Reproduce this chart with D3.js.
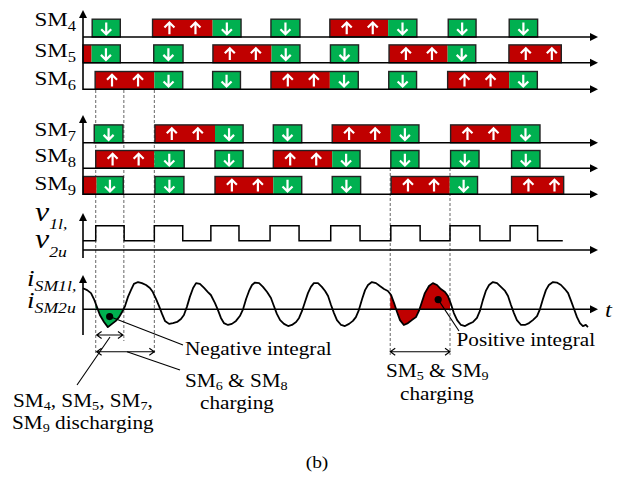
<!DOCTYPE html>
<html><head><meta charset="utf-8">
<script src="https://cdn.jsdelivr.net/npm/d3@7"></script>
<style>body{margin:0;background:#fff;} svg{display:block;}</style>
</head><body>
<svg id="c" width="634" height="481"></svg>
<script>
// ---------- data (time in half-period units) ----------
const rowNames = ["4","5","6","7","8","9"];
// [start, end, type]  c = charging (red, up), d = discharging (green, down)
const sm4 = [[0.31,1.26,"d"],[2.35,4.38,"c"],[4.38,5.34,"d"],[6.35,7.33,"d"],[8.34,10.31,"c"],[10.31,11.28,"d"],[12.34,13.28,"d"],[14.40,15.36,"d"]];
const sm5 = [[0.0,0.29,"c"],[0.29,1.26,"d"],[2.39,3.38,"d"],[4.39,6.37,"c"],[6.37,7.33,"d"],[8.36,9.31,"d"],[10.34,12.32,"c"],[12.32,13.27,"d"],[14.39,16.16,"c"]];
const sm6 = [[0.41,2.41,"c"],[2.41,3.37,"d"],[4.38,5.32,"d"],[6.35,8.34,"c"],[8.34,9.30,"d"],[10.33,11.27,"d"],[12.32,14.40,"c"],[14.40,15.35,"d"]];
const sm7 = [[0.38,1.35,"d"],[2.43,4.46,"c"],[4.46,5.41,"d"],[6.43,7.39,"d"],[8.42,10.40,"c"],[10.40,11.35,"d"],[12.42,14.46,"c"],[14.46,15.44,"d"]];
const sm8 = [[0.43,2.41,"c"],[2.41,3.42,"d"],[4.46,5.41,"d"],[6.43,8.42,"c"],[8.42,9.36,"d"],[10.40,11.35,"d"],[12.42,13.38,"d"],[14.48,15.44,"d"]];
const sm9 = [[0.01,0.46,"c"],[0.46,1.36,"d"],[2.43,3.41,"d"],[4.46,6.43,"c"],[6.43,7.39,"d"],[8.42,9.38,"d"],[10.41,12.39,"c"],[12.39,13.33,"d"],[14.48,16.24,"c"]];
// arm voltage square wave: edge times, levels
const vEdges = [0.43,1.39,2.41,3.37,4.32,5.27,6.32,7.30,8.37,9.36,10.40,11.39,12.40,13.41,14.43,15.36];
const vEnd = 16.21;
const vLow = 0.5, vHigh = 1.3;
// submodule current waveform [t, i]
const iWave = [[0,0.78],[0.14,0.71],[0.27,0.6],[0.37,0.38],[0.47,0.09],[0.57,-0.21],[0.71,-0.47],[0.84,-0.66],[0.98,-0.54],[1.11,-0.43],[1.22,-0.29],[1.32,-0.1],[1.42,0.12],[1.52,0.46],[1.62,0.71],[1.72,0.94],[1.86,1.01],[1.99,0.97],[2.13,0.9],[2.26,0.79],[2.36,0.64],[2.47,0.38],[2.57,0.12],[2.67,-0.17],[2.77,-0.43],[2.91,-0.54],[3.04,-0.51],[3.18,-0.47],[3.31,-0.36],[3.41,-0.21],[3.51,0.09],[3.61,0.46],[3.72,0.79],[3.82,0.97],[3.95,0.94],[4.09,0.79],[4.22,0.64],[4.32,0.53],[4.46,0.23],[4.56,-0.03],[4.66,-0.32],[4.76,-0.51],[4.9,-0.58],[5.03,-0.54],[5.17,-0.43],[5.3,-0.25],[5.41,0.01],[5.51,0.38],[5.61,0.68],[5.71,0.9],[5.81,0.99],[5.95,0.97],[6.08,0.83],[6.22,0.64],[6.35,0.42],[6.45,0.12],[6.55,-0.17],[6.66,-0.4],[6.79,-0.54],[6.93,-0.62],[7.06,-0.58],[7.2,-0.47],[7.3,-0.32],[7.4,-0.06],[7.5,0.27],[7.6,0.6],[7.7,0.83],[7.8,0.97],[7.94,0.97],[8.07,0.83],[8.18,0.68],[8.28,0.49],[8.38,0.16],[8.48,-0.14],[8.58,-0.4],[8.72,-0.58],[8.85,-0.62],[8.99,-0.54],[9.12,-0.43],[9.22,-0.29],[9.32,-0.03],[9.43,0.38],[9.53,0.71],[9.63,0.9],[9.76,1.01],[9.9,0.97],[10.03,0.86],[10.17,0.75],[10.3,0.68],[10.41,0.53],[10.51,0.23],[10.61,-0.1],[10.71,-0.4],[10.84,-0.58],[10.98,-0.51],[11.11,-0.4],[11.25,-0.29],[11.35,-0.06],[11.45,0.27],[11.55,0.6],[11.69,0.86],[11.82,0.97],[11.96,0.9],[12.09,0.75],[12.23,0.64],[12.33,0.49],[12.43,0.2],[12.53,-0.14],[12.64,-0.4],[12.77,-0.58],[12.91,-0.62],[13.04,-0.54],[13.18,-0.47],[13.31,-0.32],[13.41,-0.06],[13.51,0.34],[13.61,0.68],[13.72,0.9],[13.85,1.01],[13.99,0.97],[14.12,0.83],[14.26,0.68],[14.36,0.49],[14.46,0.16],[14.56,-0.14],[14.66,-0.4],[14.8,-0.58],[14.93,-0.58],[15.07,-0.51],[15.2,-0.4],[15.34,-0.25],[15.44,0.01],[15.54,0.38],[15.64,0.71],[15.74,0.9],[15.88,1.01],[16.01,0.99],[16.15,0.9],[16.28,0.75],[16.39,0.6],[16.49,0.31],[16.59,0.01],[16.69,-0.29],[16.79,-0.51],[16.89,-0.62],[16.99,-0.58],[17.06,-0.66]];
const negWindow = [0.43, 1.38];   // negative integral region
const posWindow = [10.38, 12.40]; // positive integral region
const negDot = [0.90, -0.27], posDot = [12.0, 0.36];
const dashTimes = [0.43, 1.38, 2.41, 10.38, 12.40];

// ---------- layout ----------
const RED = "#c00000", GREEN = "#00b050";
const FONT = "'Liberation Serif','Times New Roman',serif";
const SX = 1.18;
const svg = d3.select("#c");
const X0 = 83, X1 = 598;
const x = d3.scaleLinear().domain([0, 17.4]).range([X0, X1]);
const baselines = [37, 62.7, 89.3, 142.7, 168.3, 194.3];
const labelBase = [26, 57, 85, 136, 161.5, 190];
const blockH = 17.8;
const yV = d3.scaleLinear().domain([0, 1]).range([250, 231.4]);
const yI = d3.scaleLinear().domain([0, 1]).range([309.3, 282.3]);

function label(px, py, parts, opt = {}) {
  const g = svg.append("g").attr("transform", `translate(${px},${py}) scale(${SX},1)`);
  const t = g.append("text").attr("text-anchor", opt.anchor || "start")
    .attr("font-family", FONT).attr("fill", "#000");
  let prev = 0;
  parts.forEach(p => {
    const [s, size, off, it] = p;
    t.append("tspan").attr("dy", (off || 0) - prev).attr("font-size", size)
      .attr("font-style", it ? "italic" : "normal").text(s);
    prev = off || 0;
  });
  return t;
}

// dashed guide lines (behind)
const dashSpec = [[90,355],[90,341],[90,355],[168,355],[168,355]];
svg.append("g").selectAll("line").data(dashTimes).join("line")
  .attr("x1", d => x(d)).attr("x2", d => x(d))
  .attr("y1", (d,i) => dashSpec[i][0]).attr("y2", (d,i) => dashSpec[i][1])
  .attr("stroke", "#555").attr("stroke-width", 0.9).attr("stroke-dasharray", "3,2");

// blocks
const rows = [sm4, sm5, sm6, sm7, sm8, sm9];
rows.forEach((segs, i) => {
  const base = baselines[i], top = base - blockH;
  const g = svg.append("g");
  g.selectAll("rect.f").data(segs).join("rect").attr("class","f")
    .attr("x", d => x(d[0])).attr("width", d => x(d[1]) - x(d[0]))
    .attr("y", top).attr("height", blockH)
    .attr("fill", d => d[2] === "c" ? RED : GREEN);
  const groups = [];
  segs.forEach(s => {
    const last = groups[groups.length - 1];
    if (last && Math.abs(last[1] - s[0]) < 1e-6) last[1] = s[1]; else groups.push([s[0], s[1]]);
  });
  g.selectAll("rect.o").data(groups).join("rect").attr("class","o")
    .attr("x", d => x(d[0])).attr("width", d => x(d[1]) - x(d[0]))
    .attr("y", top).attr("height", blockH)
    .attr("fill", "none").attr("stroke", "#222").attr("stroke-width", 1.4);
  const arrows = [];
  segs.forEach(s => {
    if (s[2] === "d") arrows.push({t: (s[0] + s[1]) / 2, up: false});
    else if (s[1] - s[0] > 1.5) { arrows.push({t: s[0] + 0.57, up: true}); arrows.push({t: s[0] + 1.45, up: true}); }
  });
  g.selectAll("path.a").data(arrows).join("path").attr("class","a")
    .attr("d", d => {
      const cx = x(d.t), y1 = top + 3.3, y2 = base - 2.8;
      if (d.up) return `M${cx},${y2}V${y1}M${cx-5},${y1+5}L${cx},${y1}L${cx+5},${y1+5}`;
      return `M${cx},${y1}V${y2}M${cx-5},${y2-5}L${cx},${y2}L${cx+5},${y2-5}`;
    })
    .attr("fill", "none").attr("stroke", "#fff").attr("stroke-width", 2.2);
  label(76, labelBase[i], [["SM", 19.5, 0], [rowNames[i], 14, 5]], {anchor: "end"});
});

// axes helpers
function hAxis(y) {
  svg.append("line").attr("x1", X0).attr("x2", X1 - 6).attr("y1", y).attr("y2", y)
    .attr("stroke", "#000").attr("stroke-width", 1.6);
  svg.append("path").attr("d", `M${X1},${y}L${X1-8},${y-4}L${X1-8},${y+4}Z`).attr("fill", "#000");
}
function vAxis(yTop, yBot) {
  svg.append("line").attr("x1", X0).attr("x2", X0).attr("y1", yTop + 6).attr("y2", yBot)
    .attr("stroke", "#000").attr("stroke-width", 1.6);
  svg.append("path").attr("d", `M${X0},${yTop}L${X0-4},${yTop+8}L${X0+4},${yTop+8}Z`).attr("fill", "#000");
}
baselines.forEach(b => hAxis(b));
vAxis(10, 90); vAxis(115, 195);

// square wave
vAxis(213, 258); hAxis(yV(0));
const vPts = [[0, vLow]];
vEdges.forEach((e, k) => vPts.push([e, k % 2 === 0 ? vHigh : vLow]));
vPts.push([vEnd, vEdges.length % 2 === 0 ? vLow : vHigh]);
svg.append("path").attr("d", d3.line().x(d => x(d[0])).y(d => yV(d[1])).curve(d3.curveStepAfter)(vPts))
  .attr("fill", "none").attr("stroke", "#000").attr("stroke-width", 1.5);

// current waveform
vAxis(275, 335);
const defs = svg.append("defs");
[["cn", negWindow], ["cp", posWindow]].forEach(([id, w]) => {
  defs.append("clipPath").attr("id", id).append("rect")
    .attr("x", x(w[0])).attr("width", x(w[1]) - x(w[0])).attr("y", 260).attr("height", 90);
});
const area = d3.area().x(d => x(d[0])).y0(yI(0)).y1(d => yI(d[1]));
svg.append("path").attr("d", area(iWave)).attr("fill", GREEN).attr("clip-path", "url(#cn)");
svg.append("path").attr("d", area(iWave)).attr("fill", RED).attr("clip-path", "url(#cp)");
hAxis(yI(0));
svg.append("path").attr("d", d3.line().x(d => x(d[0])).y(d => yI(d[1]))(iWave))
  .attr("fill", "none").attr("stroke", "#000").attr("stroke-width", 1.8).attr("stroke-linejoin", "round");
svg.selectAll("circle.dot").data([negDot, posDot]).join("circle").attr("class","dot")
  .attr("cx", d => x(d[0])).attr("cy", d => yI(d[1])).attr("r", 3.6).attr("fill", "#000");

// axis labels
label(35, 221, [["v", 27, 0, true], ["1l,", 15, 8, true]]);
label(35, 248, [["v", 27, 0, true], ["2u", 15, 9, true]]);
label(27, 285.5, [["i", 23, 0, true], ["SM1l,", 15, 5, true]]);
label(27, 308, [["i", 23, 0, true], ["SM2u", 15, 5, true]]);
label(605, 317, [["t", 21, 0, true]]);

// annotations
const ann = svg.append("g").attr("stroke", "#000").attr("stroke-width", 1.1).attr("fill", "none");
function dbl(xa, xb, y) {
  ann.append("path").attr("d", `M${xa+5},${y-3.5}L${xa},${y}L${xa+5},${y+3.5}M${xa},${y}H${xb}M${xb-5},${y-3.5}L${xb},${y}L${xb-5},${y+3.5}`);
}
dbl(x(0.46), x(1.35), 335);
dbl(x(0.46), x(2.41), 351.7);
dbl(x(10.38), x(12.40), 351.7);
ann.append("line").attr("x1", x(negDot[0])).attr("y1", yI(negDot[1])).attr("x2", 183).attr("y2", 345);
ann.append("line").attr("x1", 77).attr("y1", 385).attr("x2", 110).attr("y2", 337);
ann.append("line").attr("x1", 127).attr("y1", 351.7).attr("x2", 180).attr("y2", 370);
ann.append("line").attr("x1", x(posDot[0])).attr("y1", yI(posDot[1])).attr("x2", 459).attr("y2", 331);

label(185, 354.5, [["Negative integral", 18, 0]]);
label(185, 386.5, [["SM", 18, 0], ["6", 12, 3], [" & SM", 18, 0], ["8", 12, 3]]);
label(200, 408.5, [["charging", 18, 0]]);
label(13, 407, [["SM", 18, 0], ["4", 12, 3], [", SM", 18, 0], ["5", 12, 3], [", SM", 18, 0], ["7", 12, 3], [",", 18, 0]]);
label(12, 429, [["SM", 18, 0], ["9", 12, 3], [" discharging", 18, 0]]);
label(456.5, 346, [["Positive integral", 18, 0]]);
label(386, 377, [["SM", 18, 0], ["5", 12, 3], [" & SM", 18, 0], ["9", 12, 3]]);
label(400, 400, [["charging", 18, 0]]);
label(317, 468, [["(b)", 16.5, 0]], {anchor: "middle"});
</script>
</body></html>
